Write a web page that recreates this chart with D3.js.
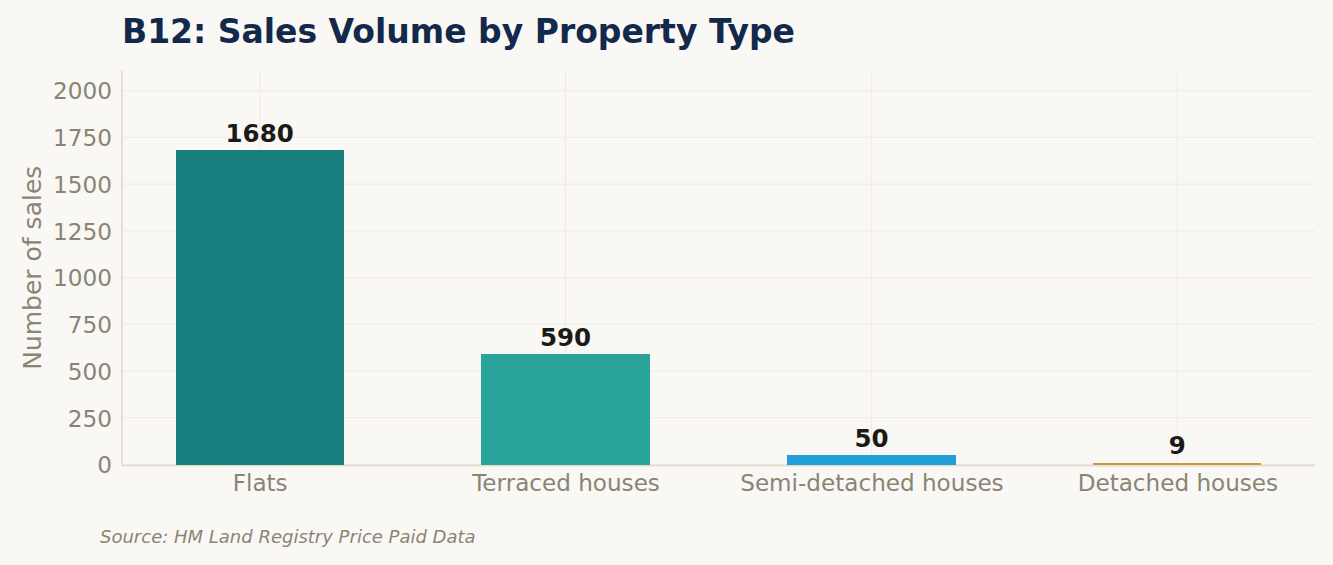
<!DOCTYPE html>
<html><head><meta charset="utf-8">
<script src="https://cdn.jsdelivr.net/npm/d3@7"></script>
<style>
html,body{margin:0;padding:0;background:#f9f8f4;}
svg{display:block;font-family:"DejaVu Sans",sans-serif;}
</style></head>
<body>
<svg id="chart" width="1333" height="565"></svg>
<script>
const categories = ["Flats", "Terraced houses", "Semi-detached houses", "Detached houses"];
const salesValues = [1680, 590, 50, 9];
const barColors = ["#177f7e", "#2aa39a", "#229fd6", "#d4963a"];
const yTicks = [0, 250, 500, 750, 1000, 1250, 1500, 1750, 2000];

(function () {
const svg = d3.select("#chart");
const W = 1333, H = 565;
svg.append("rect").attr("width", W).attr("height", H).attr("fill", "#f9f8f4");

const pL = 122, pR = 1315, pT = 71, pB = 464.5;
const x = d3.scaleLinear().domain([-0.45, categories.length - 0.55]).range([pL, pR]);
const y = d3.scaleLinear().domain([0, 2105]).range([pB, pT]);
const barW = (x(1) - x(0)) * 0.55;

// grid
const g = svg.append("g");
g.selectAll("line.hg").data(yTicks).join("line")
  .attr("x1", pL).attr("x2", pR)
  .attr("y1", d => y(d)).attr("y2", d => y(d))
  .attr("stroke", "#efebe3").attr("stroke-width", 1);
g.selectAll("line.vg").data(categories).join("line")
  .attr("x1", (d, i) => x(i)).attr("x2", (d, i) => x(i))
  .attr("y1", pT).attr("y2", pB)
  .attr("stroke", "#efebe3").attr("stroke-width", 1);

// spines
svg.append("line").attr("x1", pL).attr("x2", pL).attr("y1", pT).attr("y2", pB + 1.5)
  .attr("stroke", "#e4dfd2").attr("stroke-width", 2);
svg.append("line").attr("x1", pL).attr("x2", pR).attr("y1", pB + 1).attr("y2", pB + 1)
  .attr("stroke", "#e4dfd2").attr("stroke-width", 1.8);

// bars
svg.selectAll("rect.bar").data(salesValues).join("rect")
  .attr("x", (d, i) => x(i) - barW / 2)
  .attr("width", barW)
  .attr("y", d => y(d))
  .attr("height", d => Math.max(2, y(0) - y(d)))
  .attr("shape-rendering", "crispEdges")
  .attr("fill", (d, i) => barColors[i]);

// bar labels
svg.selectAll("text.val").data(salesValues).join("text")
  .attr("x", (d, i) => x(i))
  .attr("y", d => y(d) - 8.5)
  .attr("text-anchor", "middle")
  .attr("font-size", 24.5).attr("font-weight", "bold")
  .attr("fill", "#1c1a17")
  .text(d => d);

// y axis
const yAxis = d3.axisLeft(y).tickValues(yTicks).tickSize(0).tickPadding(10).tickFormat(d3.format("d"));
const ya = svg.append("g").attr("transform", `translate(${pL},0)`).call(yAxis);
ya.select(".domain").remove();
ya.selectAll("text").attr("font-size", 23.2).attr("fill", "#8a8474")
  .attr("font-family", "DejaVu Sans").attr("dy", "0.36em");

// x axis
const xAxis = d3.axisBottom(x).tickValues(d3.range(categories.length)).tickSize(0).tickPadding(10)
  .tickFormat(i => categories[i]);
const xa = svg.append("g").attr("transform", `translate(0,${pB})`).call(xAxis);
xa.select(".domain").remove();
xa.selectAll("text").attr("font-size", 23.1).attr("fill", "#8a8474")
  .attr("font-family", "DejaVu Sans");

// y label
svg.append("text")
  .attr("transform", `translate(41,${(pT + pB) / 2}) rotate(-90)`)
  .attr("text-anchor", "middle")
  .attr("font-size", 25).attr("fill", "#8a8474")
  .text("Number of sales");

// title
svg.append("text").attr("x", 122).attr("y", 43)
  .attr("font-size", 33).attr("font-weight", "bold").attr("fill", "#13294b")
  .text("B12: Sales Volume by Property Type");

// source
svg.append("text").attr("x", 100).attr("y", 543)
  .attr("font-size", 18).attr("font-style", "italic").attr("fill", "#8a8474")
  .text("Source: HM Land Registry Price Paid Data");
})();
</script>
</body></html>
